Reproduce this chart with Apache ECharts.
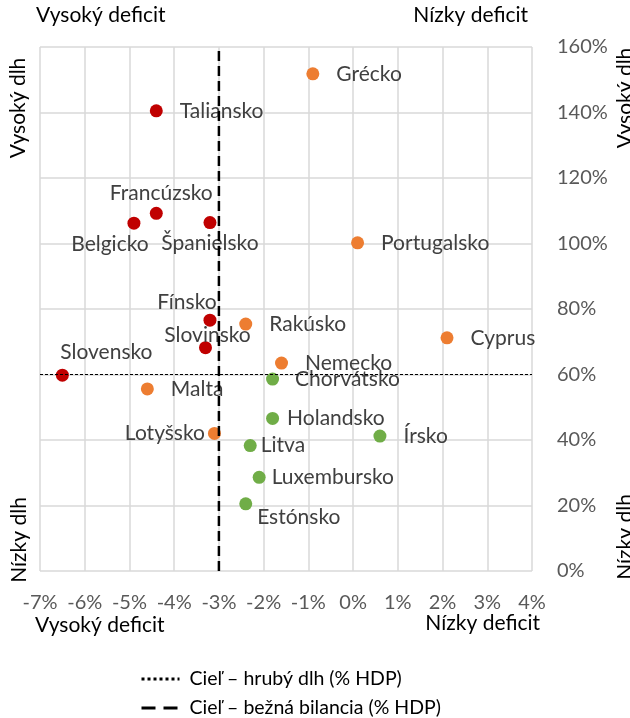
<!DOCTYPE html>
<html>
<head>
<meta charset="utf-8">
<script src="https://cdn.jsdelivr.net/npm/echarts@6/dist/echarts.min.js"></script>
<style>
  html, body { margin: 0; padding: 0; background: #fff; }
  #chart { width: 630px; height: 718px; }
</style>
</head>
<body>
<div id="chart"></div>
<script>
// krajiny, bežná bilancia (% HDP), hrubý dlh (% HDP), skupina
var countries = ['Grécko', 'Taliansko', 'Francúzsko', 'Belgicko', 'Španielsko', 'Portugalsko',
  'Fínsko', 'Slovinsko', 'Slovensko', 'Malta', 'Rakúsko', 'Cyprus', 'Nemecko',
  'Chorvátsko', 'Holandsko', 'Lotyšsko', 'Írsko', 'Litva', 'Luxembursko', 'Estónsko'];
var balance = [-0.9, -4.4, -4.4, -4.9, -3.2, 0.1,
  -3.2, -3.3, -6.5, -4.6, -2.4, 2.1, -1.6,
  -1.8, -1.8, -3.1, 0.6, -2.3, -2.1, -2.4];
var debt = [151.8, 140.5, 109.2, 106.2, 106.4, 100.2,
  76.6, 68.2, 59.8, 55.6, 75.4, 71.2, 63.5,
  58.6, 46.6, 42.0, 41.2, 38.3, 28.6, 20.5];
var groups = ['o', 'r', 'r', 'r', 'r', 'o',
  'r', 'r', 'r', 'o', 'o', 'o', 'o',
  'g', 'g', 'o', 'g', 'g', 'g', 'g'];
var xTicks = [-7, 4];      // min, max bilancie
var yTicks = [0, 160];     // min, max dlhu
var debtTarget = 60;
var balanceTarget = -3;

var colors = { r: '#C00000', o: '#ED7D31', g: '#70AD47' };

// umiestnenie popisov
var labelPos = {
  'Francúzsko': { position: 'inside', offset: [5, -20] },
  'Belgicko': { position: 'inside', offset: [-24, 21] },
  'Španielsko': { position: 'inside', offset: [0, 21] },
  'Fínsko': { position: 'inside', offset: [-23, -18] },
  'Slovinsko': { position: 'inside', offset: [2, -12] },
  'Slovensko': { position: 'inside', offset: [44, -23] },
  'Estónsko': { position: 'inside', offset: [53, 13] },
  'Lotyšsko': { position: 'left', distance: 3 },
  'Litva': { position: 'right', distance: 4 },
  'Luxembursko': { position: 'right', distance: 6 },
  'Holandsko': { position: 'right', distance: 8 },
  'Chorvátsko': { position: 'right', distance: 16 }
};

var points = countries.map(function (c, i) {
  var lp = labelPos[c] || { position: 'right', distance: 17 };
  return {
    name: c,
    value: [balance[i], debt[i]],
    itemStyle: { color: colors[groups[i]], opacity: 1 },
    label: {
      show: true,
      position: lp.position,
      distance: lp.distance || 0,
      offset: lp.offset || [0, 0],
      align: lp.position === 'inside' ? 'center' : undefined
    }
  };
});

var font = 'Lato, "Open Sans", sans-serif';
var sideFont = '21px ' + font;

var myChart = echarts.init(document.getElementById('chart'));
myChart.setOption({
  animation: false,
  textStyle: { fontFamily: font },
  grid: { left: 40, right: 98, top: 47, bottom: 147 },
  xAxis: {
    type: 'value',
    min: xTicks[0],
    max: xTicks[1],
    interval: 1,
    axisLine: { show: false },
    axisTick: { show: false },
    splitLine: { lineStyle: { color: '#D9D9D9', width: 1.5 } },
    axisLabel: {
      margin: 22,
      color: '#595959',
      fontSize: 20,
      fontFamily: font,
      formatter: function (v) { return v + '%'; }
    }
  },
  yAxis: {
    type: 'value',
    position: 'right',
    min: yTicks[0],
    max: yTicks[1],
    interval: 20,
    axisLine: { show: false },
    axisTick: { show: false },
    splitLine: { lineStyle: { color: '#D9D9D9', width: 1.5 } },
    axisLabel: {
      margin: 25,
      color: '#595959',
      fontSize: 20,
      fontFamily: font,
      formatter: function (v) { return v + '%'; }
    }
  },
  legend: {
    orient: 'vertical',
    left: 140,
    top: 669,
    padding: 0,
    itemWidth: 38,
    itemHeight: 8,
    itemGap: 9,
    itemStyle: { opacity: 0 },
    textStyle: { color: '#000', fontSize: 19.5, fontFamily: font, padding: [0, 0, 0, 5] },
    data: [
      { name: 'Cieľ – hrubý dlh (% HDP)', lineStyle: { width: 3, type: [3, 3], color: '#000' } },
      { name: 'Cieľ – bežná bilancia (% HDP)', lineStyle: { width: 3, type: [14, 8], color: '#000' } }
    ]
  },
  series: [
    {
      name: 'Cieľ – hrubý dlh (% HDP)',
      type: 'line',
      symbol: 'none',
      z: 5,
      lineStyle: { color: '#000', width: 1, type: [3, 2] },
      data: [[xTicks[0], debtTarget], [xTicks[1], debtTarget]]
    },
    {
      name: 'Cieľ – bežná bilancia (% HDP)',
      type: 'line',
      symbol: 'none',
      z: 5,
      lineStyle: { color: '#000', width: 2.5, type: [10, 5] },
      data: [[balanceTarget, yTicks[0]], [balanceTarget, yTicks[1]]]
    },
    {
      name: 'krajiny',
      type: 'scatter',
      symbolSize: 13,
      z: 4,
      label: { color: '#404040', fontSize: 21, fontFamily: font, formatter: '{b}' },
      data: points
    }
  ],
  graphic: [
    { type: 'text', left: 36, top: 5, style: { text: 'Vysoký deficit', fill: '#000', font: sideFont } },
    { type: 'text', right: 102, top: 5, style: { text: 'Nízky deficit', fill: '#000', font: sideFont } },
    { type: 'text', left: 35, top: 615, style: { text: 'Vysoký deficit', fill: '#000', font: sideFont } },
    { type: 'text', right: 90, top: 613, style: { text: 'Nízky deficit', fill: '#000', font: sideFont } },
    { type: 'text', x: 18, y: 108, rotation: Math.PI / 2, style: { text: 'Vysoký dlh', fill: '#000', font: sideFont, align: 'center', verticalAlign: 'middle' } },
    { type: 'text', x: 19, y: 540, rotation: Math.PI / 2, style: { text: 'Nízky dlh', fill: '#000', font: sideFont, align: 'center', verticalAlign: 'middle' } },
    { type: 'text', x: 625, y: 98, rotation: Math.PI / 2, style: { text: 'Vysoký dlh', fill: '#000', font: sideFont, align: 'center', verticalAlign: 'middle' } },
    { type: 'text', x: 625, y: 537, rotation: Math.PI / 2, style: { text: 'Nízky dlh', fill: '#000', font: sideFont, align: 'center', verticalAlign: 'middle' } }
  ]
});
</script>
</body>
</html>
